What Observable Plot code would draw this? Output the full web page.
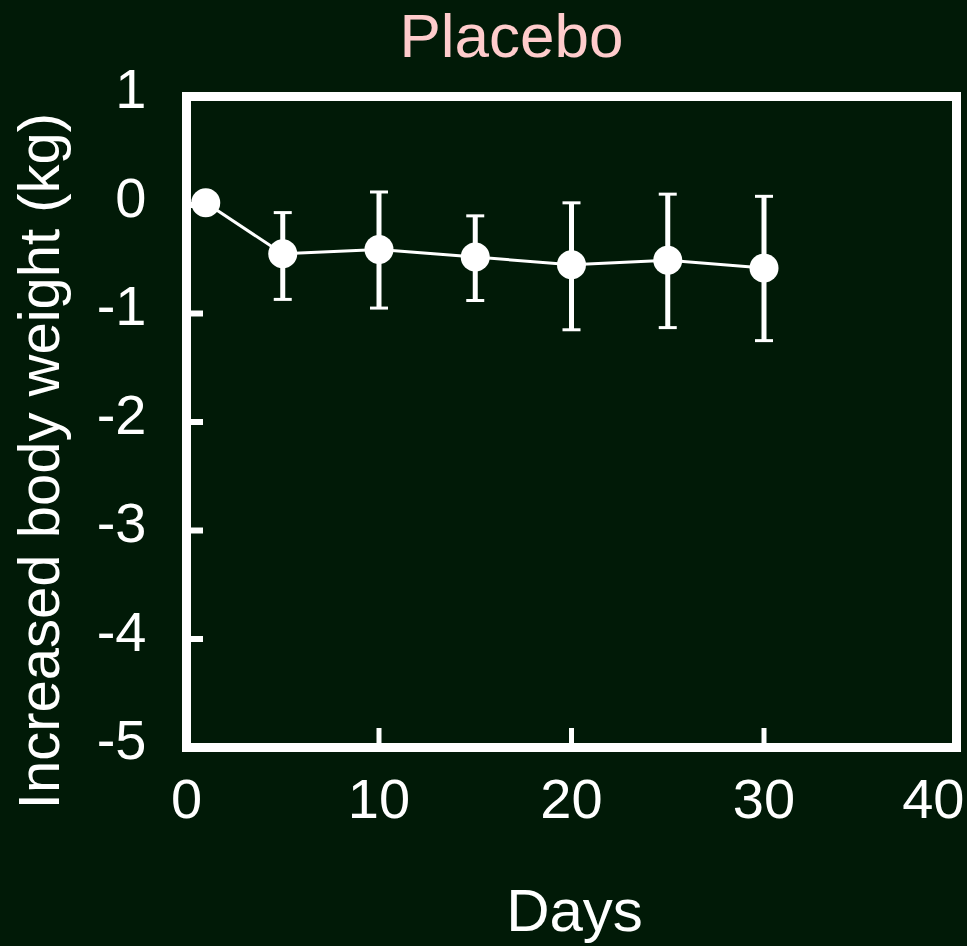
<!DOCTYPE html>
<html>
<head>
<meta charset="utf-8">
<script src="https://cdn.jsdelivr.net/npm/d3@7"></script>
<script src="https://cdn.jsdelivr.net/npm/@observablehq/plot@0.6"></script>
<style>
  html, body { margin: 0; padding: 0; background: #011a07; }
  #chart svg { display: block; }
</style>
</head>
<body>
<div id="chart"></div>
<script>
// ---- data ----
const days  = [1, 5, 10, 15, 20, 25, 30];
const mean  = [0.02, -0.45, -0.41, -0.48, -0.55, -0.51, -0.58];
const upper = [null, -0.07, 0.12, -0.10, 0.02, 0.10, 0.08];
const lower = [null, -0.87, -0.95, -0.88, -1.15, -1.13, -1.25];
const xTicks = [0, 10, 20, 30, 40];
const yTicks = [1, 0, -1, -2, -3, -4, -5];
const title = "Placebo";
const xLabel = "Days";
const yLabel = "Increased body weight (kg)";

const data = days.map((d, i) => ({day: d, mean: mean[i], hi: upper[i], lo: lower[i]}));
const bars = data.filter(d => d.hi != null);

const capSymbol = {
  draw(ctx, size) {
    const r = Math.sqrt(size / Math.PI);
    ctx.moveTo(-r, 0);
    ctx.lineTo(r, 0);
  }
};

const W = "white";
const font = "'Liberation Sans', Arial, Helvetica, sans-serif";

const chart = Plot.plot({
  width: 967,
  height: 946,
  marginLeft: 186,
  marginRight: 11,
  marginTop: 96,
  marginBottom: 199,
  style: {background: "#011a07", color: W, fontFamily: font},
  x: {domain: [0, 40]},
  y: {domain: [-5, 1]},
  marks: [
    // inward ticks
    Plot.axisY(yTicks, {anchor: "left", tickSize: -17, strokeWidth: 6, stroke: W, tickFormat: () => "", label: null}),
    Plot.axisX(xTicks, {anchor: "bottom", tickSize: -19, strokeWidth: 5, stroke: W, tickFormat: () => "", label: null}),
    Plot.frame({stroke: W, strokeWidth: 9}),
    // tick labels
    Plot.text(yTicks, {y: d => d, text: d => String(d), frameAnchor: "left", textAnchor: "end", lineAnchor: "middle", dx: -40, dy: -6, fontSize: 56, fill: W}),
    Plot.text(xTicks.slice(0, -1), {x: d => d, text: d => String(d), frameAnchor: "bottom", textAnchor: "middle", lineAnchor: "middle", dy: 53, fontSize: 56, fill: W}),
    Plot.text(xTicks.slice(-1), {x: d => d, text: d => String(d), frameAnchor: "bottom", textAnchor: "end", lineAnchor: "middle", dx: 8, dy: 53, fontSize: 56, fill: W}),
    // axis titles and title
    Plot.text([xLabel], {frameAnchor: "bottom", textAnchor: "middle", lineAnchor: "middle", dy: 164, dx: 3, fontSize: 60, fill: W}),
    Plot.text([yLabel], {frameAnchor: "left", textAnchor: "middle", lineAnchor: "middle", rotate: -90, dx: -146, dy: 39, fontSize: 58, fill: W}),
    Plot.text([title], {frameAnchor: "top", textAnchor: "middle", lineAnchor: "middle", dy: -59, dx: -60, fontSize: 62, fill: "#ffcccc"}),
    // data
    Plot.ruleX(bars, {x: "day", y1: "lo", y2: "hi", stroke: W, strokeWidth: 5}),
    Plot.dot(bars, {x: "day", y: "hi", symbol: capSymbol, r: 9, fill: "none", stroke: W, strokeWidth: 3}),
    Plot.dot(bars, {x: "day", y: "lo", symbol: capSymbol, r: 9, fill: "none", stroke: W, strokeWidth: 3}),
    Plot.line(data, {x: "day", y: "mean", stroke: W, strokeWidth: 3}),
    Plot.dot(data, {x: "day", y: "mean", r: 14.5, fill: W, stroke: "none"})
  ]
});
document.getElementById("chart").appendChild(chart);
</script>
</body>
</html>
